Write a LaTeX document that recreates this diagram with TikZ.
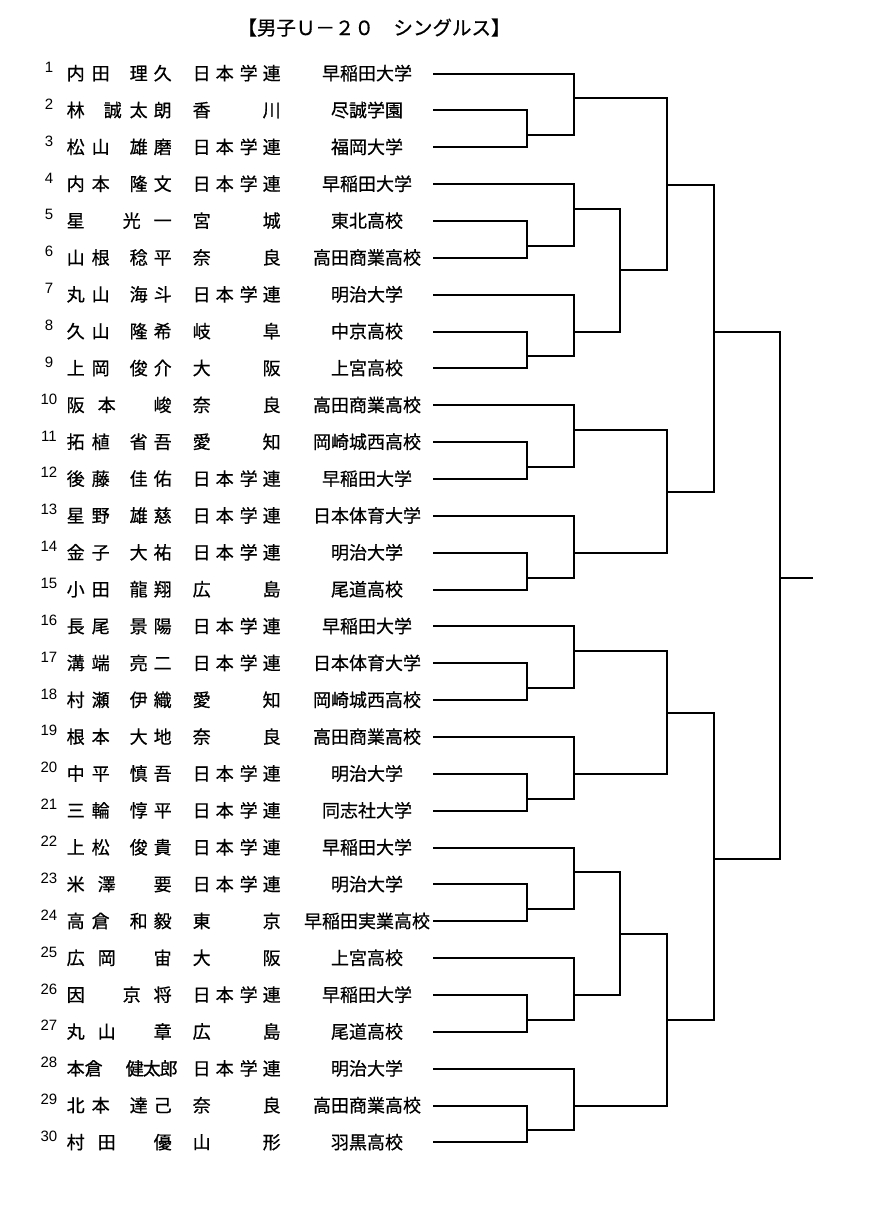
\documentclass[tikz,border=0pt]{standalone}
\usepackage{fontspec}
\setmainfont{Noto Sans CJK JP}[FakeBold=0.6]
\newfontfamily\numfont{Liberation Sans}
\newcommand\at[2]{\rlap{\hspace*{#1pt}\makebox[0pt]{#2}}}
\newcommand\nmS[4]{\at{8}{#1}\at{33}{#2}\at{71}{#3}\at{95}{#4}}
\newcommand\nmT[3]{\at{8}{#1}\at{39}{#2}\at{95}{#3}}
\newcommand\nmG[3]{\at{8}{#1}\at{64}{#2}\at{95}{#3}}
\newcommand\pfA{\at{8}{日}\at{31}{本}\at{55}{学}\at{78}{連}}
\newcommand\pfB[2]{\at{8}{#1}\at{78}{#2}}
\newcommand\player[4]{%
  \coordinate (r#1) at (433,{round(73.5+(#1-1)*36.86)});
  \node[num] (num#1) at (49,{73.5+(#1-1)*36.86-1}) {#1};
  \node[jp,anchor=base west] (name#1) at (67,{80+(#1-1)*36.86}) {#2};
  \node[jp,anchor=base west] (pref#1) at (193,{80+(#1-1)*36.86}) {#3};
  \node[jp,anchor=base] (sch#1) at (367,{80+(#1-1)*36.86}) {#4};}
\newcommand\pairb[2]{%
  \coordinate (c#2) at (527,{round(73.5+(#2-1)*36.86)});
  \draw[br] (r#1) -| (c#2) -- (r#2);}
\newcommand\tripl[3]{%
  \pairb{#2}{#3}
  \coordinate (j#3) at (527,{round(73.5+(#3-1)*36.86-12)});
  \coordinate (m#3) at (574,{round(73.5+(#3-1)*36.86-12)});
  \draw[br] (r#1) -| (m#3) -- (j#3);}
\begin{document}
\begin{tikzpicture}[x=1pt,y=-1pt,
  br/.style={line width=2.2pt},
  jp/.style={font=\fontsize{18}{20}\selectfont, inner sep=0pt},
  num/.style={font=\numfont\fontsize{15}{16}\selectfont, inner sep=0pt, anchor=base}]
\fill[white] (0,0) rectangle (872,1216);
\useasboundingbox (0,0) rectangle (872,1216);

\node[jp, font=\fontsize{19.5}{21}\selectfont, anchor=base] (title) at (374,35) {【男子Ｕ－２０　シングルス】};

\player{1}{\nmS{内}{田}{理}{久}}{\pfA}{早稲田大学}
\player{2}{\at{8}{林}\at{45}{誠}\at{71}{太}\at{95}{朗}}{\pfB{香}{川}}{尽誠学園}
\player{3}{\nmS{松}{山}{雄}{磨}}{\pfA}{福岡大学}
\player{4}{\nmS{内}{本}{隆}{文}}{\pfA}{早稲田大学}
\player{5}{\nmG{星}{光}{一}}{\pfB{宮}{城}}{東北高校}
\player{6}{\nmS{山}{根}{稔}{平}}{\pfB{奈}{良}}{高田商業高校}
\player{7}{\nmS{丸}{山}{海}{斗}}{\pfA}{明治大学}
\player{8}{\nmS{久}{山}{隆}{希}}{\pfB{岐}{阜}}{中京高校}
\player{9}{\nmS{上}{岡}{俊}{介}}{\pfB{大}{阪}}{上宮高校}
\player{10}{\nmT{阪}{本}{峻}}{\pfB{奈}{良}}{高田商業高校}
\player{11}{\nmS{拓}{植}{省}{吾}}{\pfB{愛}{知}}{岡崎城西高校}
\player{12}{\nmS{後}{藤}{佳}{佑}}{\pfA}{早稲田大学}
\player{13}{\nmS{星}{野}{雄}{慈}}{\pfA}{日本体育大学}
\player{14}{\nmS{金}{子}{大}{祐}}{\pfA}{明治大学}
\player{15}{\nmS{小}{田}{龍}{翔}}{\pfB{広}{島}}{尾道高校}
\player{16}{\nmS{長}{尾}{景}{陽}}{\pfA}{早稲田大学}
\player{17}{\nmS{溝}{端}{亮}{二}}{\pfA}{日本体育大学}
\player{18}{\nmS{村}{瀬}{伊}{織}}{\pfB{愛}{知}}{岡崎城西高校}
\player{19}{\nmS{根}{本}{大}{地}}{\pfB{奈}{良}}{高田商業高校}
\player{20}{\nmS{中}{平}{慎}{吾}}{\pfA}{明治大学}
\player{21}{\nmS{三}{輪}{惇}{平}}{\pfA}{同志社大学}
\player{22}{\nmS{上}{松}{俊}{貴}}{\pfA}{早稲田大学}
\player{23}{\nmT{米}{澤}{要}}{\pfA}{明治大学}
\player{24}{\nmS{高}{倉}{和}{毅}}{\pfB{東}{京}}{早稲田実業高校}
\player{25}{\nmT{広}{岡}{宙}}{\pfB{大}{阪}}{上宮高校}
\player{26}{\nmG{因}{京}{将}}{\pfA}{早稲田大学}
\player{27}{\nmT{丸}{山}{章}}{\pfB{広}{島}}{尾道高校}
\player{28}{\at{8}{本}\at{26}{倉}\at{67}{健}\at{84}{太}\at{101}{郎}}{\pfA}{明治大学}
\player{29}{\nmS{北}{本}{達}{己}}{\pfB{奈}{良}}{高田商業高校}
\player{30}{\nmT{村}{田}{優}}{\pfB{山}{形}}{羽黒高校}

% first round groups of three
\tripl{1}{2}{3}
\tripl{4}{5}{6}
\tripl{7}{8}{9}
\tripl{10}{11}{12}
\tripl{13}{14}{15}
\tripl{16}{17}{18}
\tripl{19}{20}{21}
\tripl{22}{23}{24}
\tripl{25}{26}{27}
\tripl{28}{29}{30}

% outputs of the groups (on the verticals at x=574)
\coordinate (o1) at (574,98);
\coordinate (o2) at (574,209);
\coordinate (o3) at (574,332);
\coordinate (o4) at (574,430);
\coordinate (o5) at (574,553);
\coordinate (o6) at (574,651);
\coordinate (o7) at (574,774);
\coordinate (o8) at (574,872);
\coordinate (o9) at (574,995);
\coordinate (o10) at (574,1106);

\coordinate (k1) at (620,332);  \coordinate (q1) at (620,270);
\coordinate (k2) at (667,270);  \coordinate (h1) at (667,185);
\coordinate (k3) at (667,553);  \coordinate (h2) at (667,492);
\coordinate (k4) at (714,492);  \coordinate (t1) at (714,332);
\coordinate (k5) at (667,774);  \coordinate (h3) at (667,713);
\coordinate (k6) at (620,995);  \coordinate (q2) at (620,934);
\coordinate (k7) at (667,1106); \coordinate (h4) at (667,1020);
\coordinate (k8) at (714,1020); \coordinate (t2) at (714,859);
\coordinate (k9) at (780,859);
\coordinate (f0) at (780,578);  \coordinate (f1) at (813,578);

\draw[br] (o2) -| (k1) -- (o3);
\draw[br] (o1) -| (k2) -- (q1);
\draw[br] (o4) -| (k3) -- (o5);
\draw[br] (h1) -| (k4) -- (h2);
\draw[br] (o6) -| (k5) -- (o7);
\draw[br] (o8) -| (k6) -- (o9);
\draw[br] (q2) -| (k7) -- (o10);
\draw[br] (h3) -| (k8) -- (h4);
\draw[br] (t1) -| (k9) -- (t2);
\draw[br] (f0) -- (f1);
\end{tikzpicture}
\end{document}
